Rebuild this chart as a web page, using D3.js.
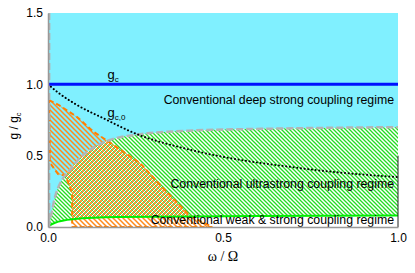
<!DOCTYPE html>
<html>
<head>
<meta charset="utf-8">
<script src="https://cdn.jsdelivr.net/npm/d3@7"></script>
<style>
body { margin: 0; background: #fff; }
svg { display: block; font-family: "Liberation Sans", Arial, sans-serif; }
</style>
</head>
<body>
<div id="container"></div>
<script>
var w = 415;
var h = 273;

// g_c,0 dotted curve
var gc0W = [0, 0.03, 0.083, 0.16, 0.25, 0.4, 0.55, 0.65, 0.8, 1.0];
var gc0G = [1.0, 0.94, 0.855, 0.76, 0.655, 0.545, 0.47, 0.435, 0.39, 0.35];

// ultrastrong region: upper (grey dashed) and lower (green) borders
var usUpperW = [0, 0.006, 0.02, 0.04, 0.063, 0.09, 0.12, 0.177, 0.263, 0.4, 0.66, 1.0];
var usUpperG = [0, 0.05, 0.21, 0.33, 0.40, 0.48, 0.54, 0.61, 0.65, 0.675, 0.69, 0.70];
var usLowerW = [0, 0.02, 0.07, 0.2, 0.5, 1.0];
var usLowerG = [0.005, 0.03, 0.055, 0.07, 0.075, 0.08];

// orange hatched region outline
var orangeW = [0.003, 0.031, 0.083, 0.131, 0.166, 0.263, 0.334, 0.406, 0.469, 0.069, 0.069, 0.05, 0.029, 0.006];
var orangeG = [0.89, 0.855, 0.771, 0.666, 0.61, 0.448, 0.259, 0.077, 0.0, 0.0, 0.238, 0.36, 0.37, 0.448];

var gcValue = 1.0;
var xTicks = [0, 0.5, 1.0];
var yTicks = [0, 0.5, 1.0, 1.5];
var regimes = ["Conventional deep strong coupling regime",
               "Conventional ultrastrong coupling regime",
               "Conventional weak & strong coupling regime"];
var regimeG = [0.86, 0.27, 0.02];

var zip = function(a, b) { return a.map(function(v, i) { return [v, b[i]]; }); };

var x = d3.scaleLinear().domain([0, 1]).range([48, 398]);
var y = d3.scaleLinear().domain([0, 1.5]).range([227, 13]);

var svg = d3.select("div#container").append("svg")
    .attr("width", w).attr("height", h);

var defs = svg.append("defs");
defs.append("clipPath").attr("id", "plot")
  .append("rect").attr("x", x(0)).attr("y", y(1.5))
  .attr("width", x(1) - x(0)).attr("height", y(0) - y(1.5));

var gp = defs.append("pattern").attr("id", "greenHatch")
  .attr("patternUnits", "userSpaceOnUse").attr("width", 4).attr("height", 4);
gp.append("rect").attr("width", 4).attr("height", 4).attr("fill", "#fff");
gp.append("path").attr("d", "M-1,-1L5,5M-1,3L1,5M3,-1L5,1")
  .attr("stroke", "#22dd22").attr("stroke-width", 1.3);

var op = defs.append("pattern").attr("id", "orangeHatch")
  .attr("patternUnits", "userSpaceOnUse").attr("width", 5).attr("height", 5);
op.append("path").attr("d", "M-1,-1L6,6M-1,4L1,6M4,-1L6,1")
  .attr("stroke", "#ff8a1c").attr("stroke-width", 1.5);

// orange/green check pattern for the overlap
var cp = defs.append("pattern").attr("id", "cross")
  .attr("patternUnits", "userSpaceOnUse").attr("width", 4).attr("height", 4);
cp.append("rect").attr("width", 4).attr("height", 4).attr("fill", "#fff");
cp.append("rect").attr("x", 0).attr("y", 0).attr("width", 2).attr("height", 2).attr("fill", "#ff9a3c");
cp.append("rect").attr("x", 2).attr("y", 2).attr("width", 2).attr("height", 2).attr("fill", "#ff9a3c");
cp.append("rect").attr("x", 2).attr("y", 0).attr("width", 1).attr("height", 1).attr("fill", "#44e044");
cp.append("rect").attr("x", 0).attr("y", 2).attr("width", 1).attr("height", 1).attr("fill", "#44e044");
cp.append("rect").attr("x", 3).attr("y", 1).attr("width", 1).attr("height", 1).attr("fill", "#44e044");
cp.append("rect").attr("x", 1).attr("y", 3).attr("width", 1).attr("height", 1).attr("fill", "#44e044");

var line = d3.line().x(function(d) { return x(d[0]); }).y(function(d) { return y(d[1]); });
var smooth = d3.line().x(function(d) { return x(d[0]); }).y(function(d) { return y(d[1]); })
  .curve(d3.curveMonotoneX);

var upper = zip(usUpperW, usUpperG);
var lower = zip(usLowerW, usLowerG);
var orange = zip(orangeW, orangeG);

// green region polygon: upper curve, then lower curve reversed
var greenPath = smooth(upper) + "L" + smooth(lower.slice().reverse()).slice(1) + "Z";
defs.append("clipPath").attr("id", "greenClip")
  .append("path").attr("d", greenPath);

var g = svg.append("g").attr("clip-path", "url(#plot)");

g.append("rect").attr("x", x(0)).attr("y", y(1.5))
  .attr("width", x(1) - x(0)).attr("height", y(0) - y(1.5))
  .attr("fill", "#80f0ff");

// weak & strong area (white)
g.append("path")
  .attr("d", smooth(lower) + "L" + x(1) + "," + y(0) + "L" + x(0) + "," + y(0) + "Z")
  .attr("fill", "#fff");

g.append("path").attr("d", greenPath).attr("fill", "url(#greenHatch)");

g.append("path").attr("d", line(orange) + "Z").attr("fill", "url(#orangeHatch)");
g.append("path").attr("d", line(orange) + "Z").attr("fill", "url(#cross)")
  .attr("clip-path", "url(#greenClip)");

g.append("path").attr("d", line(orange) + "Z")
  .attr("fill", "none").attr("stroke", "#ff7f00").attr("stroke-width", 2)
  .attr("stroke-dasharray", "5,3");

g.append("path").attr("d", smooth(upper))
  .attr("fill", "none").attr("stroke", "#b4b4b4").attr("stroke-width", 2.5)
  .attr("stroke-dasharray", "7,3");

g.append("path").attr("d", smooth(lower))
  .attr("fill", "none").attr("stroke", "#00ee00").attr("stroke-width", 2);

g.append("line")
  .attr("x1", x(0.004)).attr("x2", x(0.004)).attr("y1", y(1.5)).attr("y2", y(0))
  .attr("stroke", "#b4b4b4").attr("stroke-width", 2).attr("stroke-dasharray", "7,3");

g.append("line")
  .attr("x1", x(0)).attr("x2", x(1)).attr("y1", y(gcValue)).attr("y2", y(gcValue))
  .attr("stroke", "#0010ff").attr("stroke-width", 3);

g.append("path").attr("d", smooth(zip(gc0W, gc0G)))
  .attr("fill", "none").attr("stroke", "#000").attr("stroke-width", 2)
  .attr("stroke-dasharray", "0.1,3.6").attr("stroke-linecap", "round");

// right frame
svg.append("line")
  .attr("x1", x(1)).attr("x2", x(1)).attr("y1", y(0.5)).attr("y2", y(0))
  .attr("stroke", "#222").attr("stroke-width", 1);

// curve labels
var t1 = svg.append("text").attr("x", x(0.17)).attr("y", y(gcValue) - 5)
  .attr("font-size", 13).attr("fill", "#000");
t1.append("tspan").text("g");
t1.append("tspan").attr("font-size", 8).attr("dy", 3).text("c");

var t2 = svg.append("text").attr("x", x(0.17)).attr("y", y(0.77))
  .attr("font-size", 13).attr("fill", "#000");
t2.append("tspan").text("g");
t2.append("tspan").attr("font-size", 8).attr("dy", 3).text("c,0");

svg.selectAll("text.regime")
  .data(regimes)
  .enter().append("text")
  .attr("class", "regime")
  .attr("x", x(1) - 4)
  .attr("y", function(d, i) { return y(regimeG[i]); })
  .attr("text-anchor", "end")
  .attr("font-size", 12.3)
  .attr("fill", "#000")
  .text(function(d) { return d; });

// axes
var ax = svg.append("g").attr("transform", "translate(0," + y(0) + ")")
  .call(d3.axisBottom(x).tickValues(xTicks).tickSize(0).tickPadding(6)
    .tickFormat(d3.format(".1f")));
var ay = svg.append("g").attr("transform", "translate(" + x(0) + ",0)")
  .call(d3.axisLeft(y).tickValues(yTicks).tickSize(0).tickPadding(5)
    .tickFormat(d3.format(".1f")));
[ax, ay].forEach(function(a) {
  a.select(".domain").attr("stroke", "#999").attr("stroke-width", 1.5);
  a.selectAll("text").attr("font-size", 12).attr("fill", "#000")
    .attr("font-family", "Liberation Sans, Arial, sans-serif");
});

svg.append("text")
  .attr("x", (x(0) + x(1)) / 2).attr("y", 261)
  .attr("text-anchor", "middle")
  .attr("font-family", "Liberation Serif, Times New Roman, serif")
  .attr("font-size", 14)
  .text("\u03c9 / \u03a9");

var yl = svg.append("text")
  .attr("transform", "translate(18," + 126 + ") rotate(-90)")
  .attr("text-anchor", "middle")
  .attr("font-size", 12);
yl.append("tspan").text("g / g");
yl.append("tspan").attr("font-size", 7.5).attr("dy", 3).text("c");
</script>
</body>
</html>
